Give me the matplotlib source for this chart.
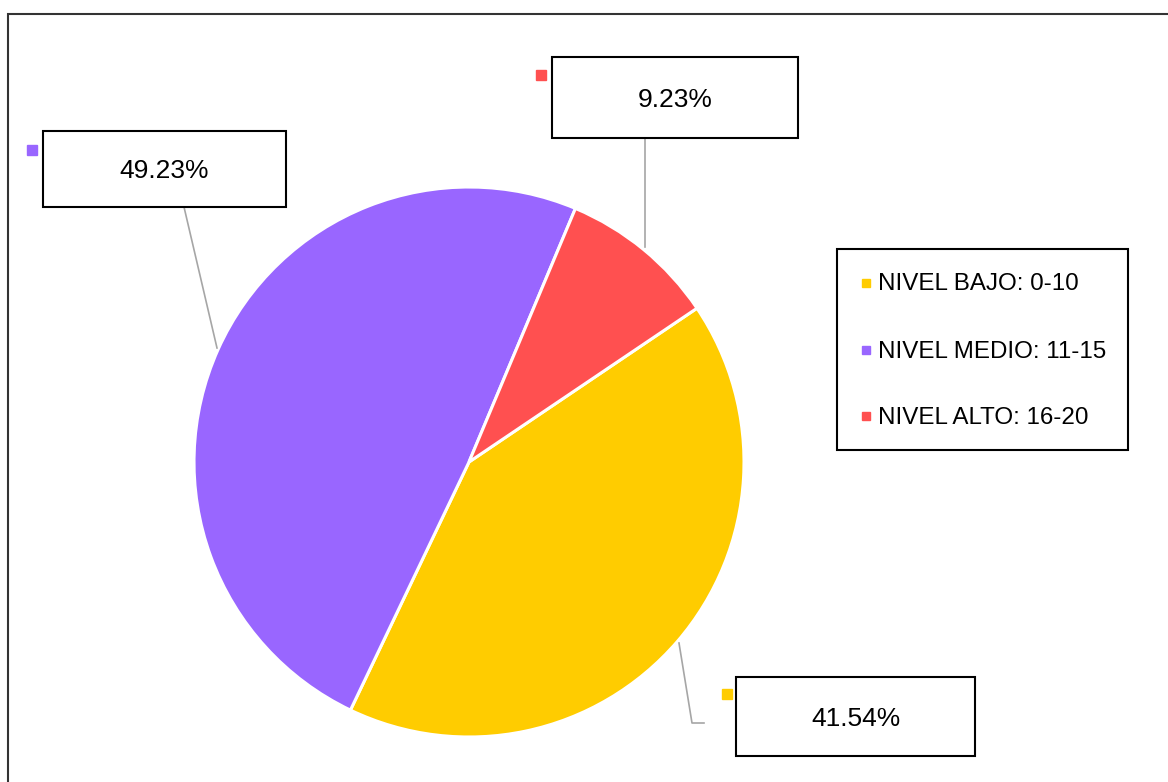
import matplotlib
matplotlib.use("Agg")
import matplotlib.pyplot as plt
from matplotlib.patches import Rectangle

plt.rcParams['font.family'] = ['Liberation Sans', 'DejaVu Sans']

# Data
categories = ["NIVEL BAJO: 0-10", "NIVEL MEDIO: 11-15", "NIVEL ALTO: 16-20"]
percentages = [41.54, 49.23, 9.23]
colors = ["#FFCC00", "#9966FF", "#FF5050"]

W, H = 1168, 782
fig = plt.figure(figsize=(W / 100, H / 100), dpi=100)
ax = fig.add_axes([0, 0, 1, 1])


def py(y):
    """Convert a top-down pixel row to the axes' bottom-up coordinate."""
    return H - y


ax.pie(percentages, colors=colors, startangle=34, counterclock=False,
       center=(469, py(462)), radius=275,
       wedgeprops=dict(edgecolor="white", linewidth=2.2))
ax.set_xlim(0, W)
ax.set_ylim(0, H)
ax.set_aspect("equal")
ax.axis("off")

# Outer chart frame
ax.add_patch(Rectangle((8, py(1000)), 1400, 1000 - 14, fill=False,
                       edgecolor="#333333", linewidth=1.5, zorder=1))

# Data label callouts: (box left, top, right, bottom), marker centre, leader path
callouts = [
    dict(box=(736, 677, 975, 756), marker=(727, 694),
         leader=[(679, 643), (692, 723), (704, 723)]),
    dict(box=(43, 131, 286, 207), marker=(32, 150),
         leader=[(217, 348), (184, 207)]),
    dict(box=(552, 57, 798, 138), marker=(541, 75),
         leader=[(645, 247), (645, 138)]),
]

for value, color, c in zip(percentages, colors, callouts):
    xs = [p[0] for p in c["leader"]]
    ys = [py(p[1]) for p in c["leader"]]
    ax.plot(xs, ys, color="#A6A6A6", linewidth=1.2, zorder=3)
    x0, y0, x1, y1 = c["box"]
    ax.add_patch(Rectangle((x0, py(y1)), x1 - x0, y1 - y0, facecolor="white",
                           edgecolor="black", linewidth=1.5, zorder=4))
    ax.text((x0 + x1) / 2, py((y0 + y1) / 2 + 2.5), f"{value:.2f}%",
            ha="center", va="center", fontsize=19, color="black", zorder=5)
    mx, my = c["marker"]
    ax.plot(mx, py(my), marker="s", markersize=6.5, color=color,
            linestyle="none", zorder=5)

# Legend
lx0, ly0, lx1, ly1 = 837, 249, 1128, 450
ax.add_patch(Rectangle((lx0, py(ly1)), lx1 - lx0, ly1 - ly0, facecolor="white",
                       edgecolor="black", linewidth=1.5, zorder=4))
legend_rows = [283, 350, 416]
for name, color, ry in zip(categories, colors, legend_rows):
    ax.plot(866, py(ry), marker="s", markersize=5.5, color=color,
            linestyle="none", zorder=5)
    ax.text(878, py(ry + 1.5), name, ha="left", va="center", fontsize=17.4,
            color="black", zorder=5)

fig.savefig("out.png", dpi=100)
